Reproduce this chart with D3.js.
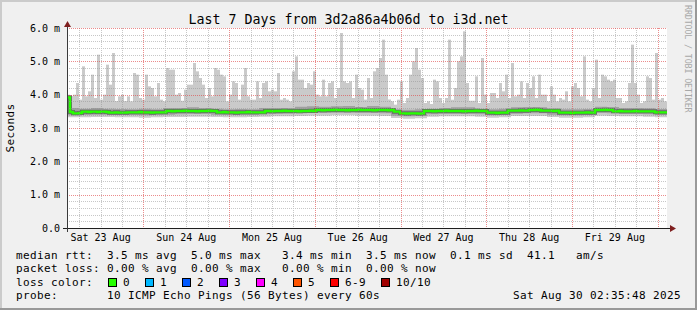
<!DOCTYPE html>
<html><head><meta charset="utf-8">
<script src="https://cdn.jsdelivr.net/npm/d3@7"></script>
<style>
html,body{margin:0;padding:0;background:#f0f0f0;}
svg{display:block;}
text{font-family:"DejaVu Sans Mono",monospace;white-space:pre;}
</style></head><body>
<svg id="c" width="697" height="310"></svg>
<script>
const titleText = "Last 7 Days from 3d2a86a4b06d to i3d.net";
const yAxisTitle = "Seconds";
const watermark = "RRDTOOL / TOBI OETIKER";
const yTicks = [0, 1, 2, 3, 4, 5, 6];
const yTickLabels = ["0.0", "1.0 m", "2.0 m", "3.0 m", "4.0 m", "5.0 m", "6.0 m"];
const dayLabels = ["Sat 23 Aug", "Sun 24 Aug", "Mon 25 Aug", "Tue 26 Aug", "Wed 27 Aug", "Thu 28 Aug", "Fri 29 Aug"];
const startTime = Date.UTC(2025, 7, 23, 2, 35, 48);
const endTime = Date.UTC(2025, 7, 30, 2, 35, 48);
const stepSec = 3024;      // one sample per bar
const smokeStepSec = 12096; // coarser smoke band samples

// top of smoke (slowest ping), ms
const maxVals = [
 4.0,3.95,4.0,4.35,3.85,4.85,3.95,4.1,4.6,3.9,
 5.2,3.85,4.0,4.9,4.3,5.25,3.8,3.95,4.0,3.8,
 3.95,3.8,4.65,4.6,3.9,3.85,4.6,4.25,4.2,3.95,
 4.35,3.85,3.75,4.8,4.75,4.75,4.0,4.05,3.8,4.15,
 4.3,4.3,4.95,4.7,4.5,4.3,3.9,4.2,3.95,4.8,
 4.75,4.6,4.55,3.8,4.0,4.4,4.35,3.85,4.3,4.8,
 3.95,3.85,3.85,4.4,3.9,4.35,4.4,4.1,4.15,4.1,
 4.65,3.85,3.9,3.85,3.8,4.7,5.15,4.45,4.45,4.2,
 4.35,4.3,4.7,4.0,3.95,4.45,3.95,4.35,4.4,3.9,
 4.2,5.85,4.4,4.35,4.4,3.9,4.6,4.2,4.15,3.85,
 4.5,3.9,4.7,4.8,5.1,5.65,4.6,3.85,3.8,3.7,
 3.85,4.4,3.75,3.9,4.6,5.0,5.4,4.75,4.5,3.75,
 3.8,3.7,4.45,4.4,3.9,3.75,3.9,5.65,3.8,4.2,
 5.0,5.15,5.9,4.35,3.8,3.8,4.55,3.75,5.1,4.0,
 3.75,4.05,4.05,3.9,4.35,4.1,4.6,3.9,4.95,3.95,
 4.0,4.4,3.9,4.35,4.2,4.55,3.9,4.6,4.0,4.0,
 3.8,4.25,4.0,3.8,3.9,3.85,4.1,3.8,4.25,4.35,
 4.2,3.95,5.15,3.85,3.8,4.2,5.05,3.9,4.6,4.55,
 4.45,4.4,4.45,3.9,3.9,3.75,3.8,4.35,5.5,4.35,
 4.0,3.75,3.8,4.55,4.5,3.85,5.25,3.85,3.9,3.8];

// median rtt, ms
const medianVals = [
 3.92,3.48,3.44,3.44,3.45,3.49,3.49,3.48,3.49,3.49,
 3.48,3.49,3.49,3.48,3.46,3.46,3.47,3.46,3.46,3.46,
 3.47,3.47,3.47,3.47,3.48,3.47,3.47,3.47,3.46,3.47,
 3.47,3.47,3.47,3.51,3.51,3.50,3.51,3.51,3.51,3.52,
 3.51,3.51,3.51,3.50,3.51,3.51,3.51,3.52,3.51,3.51,
 3.47,3.47,3.48,3.47,3.47,3.47,3.46,3.47,3.47,3.47,
 3.48,3.47,3.47,3.47,3.47,3.47,3.51,3.51,3.50,3.51,
 3.51,3.51,3.52,3.51,3.51,3.51,3.51,3.50,3.51,3.51,
 3.51,3.52,3.51,3.54,3.54,3.53,3.54,3.54,3.54,3.55,
 3.54,3.54,3.54,3.53,3.54,3.54,3.54,3.55,3.54,3.54,
 3.54,3.54,3.53,3.54,3.54,3.54,3.54,3.53,3.54,3.49,
 3.49,3.44,3.44,3.43,3.44,3.44,3.44,3.43,3.44,3.51,
 3.51,3.51,3.50,3.51,3.51,3.51,3.52,3.51,3.51,3.51,
 3.51,3.51,3.50,3.51,3.51,3.51,3.52,3.51,3.51,3.51,
 3.46,3.46,3.46,3.45,3.46,3.46,3.46,3.52,3.52,3.52,
 3.52,3.53,3.52,3.52,3.54,3.54,3.55,3.54,3.52,3.52,
 3.52,3.52,3.51,3.52,3.46,3.46,3.46,3.46,3.45,3.46,
 3.46,3.46,3.46,3.47,3.46,3.46,3.54,3.54,3.54,3.55,
 3.54,3.54,3.50,3.50,3.51,3.50,3.50,3.50,3.50,3.51,
 3.50,3.50,3.50,3.50,3.50,3.50,3.47,3.47,3.47,3.47];

// smoke bands (coarser), ms
const floorVals = [3.95,3.8,3.78,3.75,3.8,3.72,3.78,3.72,3.8,3.82,3.9,3.85,3.8,3.72,3.75,3.66,3.78,3.8,3.72,3.85,
 3.85,3.82,3.8,3.85,3.78,3.9,3.85,3.6,3.72,3.75,3.72,3.7,3.85,3.82,3.7,3.75,3.8,3.78,3.82,3.8,
 3.72,3.72,3.78,3.68,3.85,3.88,3.72,3.75,3.75,3.72];
const upperVals = [3.6,3.58,3.6,3.58,3.57,3.56,3.58,3.56,3.6,3.6,3.62,3.6,3.58,3.56,3.57,3.56,3.6,3.6,3.6,3.64,
 3.65,3.64,3.65,3.66,3.63,3.66,3.64,3.55,3.55,3.56,3.58,3.6,3.62,3.62,3.58,3.56,3.58,3.62,3.63,3.62,
 3.58,3.56,3.56,3.57,3.64,3.63,3.6,3.6,3.59,3.57];
const lowerVals = [3.38,3.39,3.4,3.4,3.39,3.39,3.38,3.39,3.4,3.41,3.42,3.42,3.4,3.39,3.39,3.39,3.41,3.42,3.43,3.44,
 3.45,3.45,3.46,3.46,3.45,3.45,3.44,3.37,3.35,3.36,3.41,3.42,3.42,3.42,3.41,3.38,3.39,3.43,3.44,3.44,
 3.4,3.38,3.38,3.39,3.45,3.44,3.42,3.42,3.41,3.39];
const minVals = [3.32,3.32,3.33,3.33,3.32,3.32,3.31,3.32,3.33,3.33,3.34,3.34,3.33,3.32,3.32,3.33,3.34,3.35,3.35,3.36,
 3.37,3.37,3.38,3.38,3.37,3.37,3.36,3.3,3.28,3.29,3.34,3.35,3.35,3.35,3.34,3.31,3.32,3.36,3.36,3.36,
 3.33,3.31,3.31,3.32,3.37,3.36,3.35,3.35,3.34,3.32];

const lossLabels = ["0", "1", "2", "3", "4", "5", "6-9", "10/10"];
const lossColors = ["#26ff00", "#00b8ff", "#0059ff", "#7e00ff", "#ff00ff", "#ff5500", "#ff0000", "#a10000"];
const legendRtt = "median rtt:  3.5 ms avg  5.0 ms max   3.4 ms min  3.5 ms now  0.1 ms sd  41.1   am/s";
const legendLoss = "packet loss: 0.00 % avg  0.00 % max   0.00 % min  0.00 % now";
const legendColorTitle = "loss color:";
const legendProbe = "probe:       10 ICMP Echo Pings (56 Bytes) every 60s";
const legendDate = "Sat Aug 30 02:35:48 2025";

const W = 697, H = 310;
const svg = d3.select("#c");
const x = d3.scaleUtc().domain([new Date(startTime), new Date(endTime)]).range([67, 667]);
const y = d3.scaleLinear().domain([0, 6]).range([228, 28]);

// background and frame
svg.append("rect").attr("width", W).attr("height", H).attr("fill", "#f0f0f0");
svg.append("path").attr("d", `M0,${H}V0H${W}`).attr("fill", "none").attr("stroke", "#cbcbcb").attr("stroke-width", 4);
svg.append("path").attr("d", `M0,${H}H${W}V0`).attr("fill", "none").attr("stroke", "#999999").attr("stroke-width", 4);
svg.append("rect").attr("x", 67).attr("y", 28).attr("width", 600).attr("height", 200).attr("fill", "#ffffff");

const tAt = (i, s) => new Date(startTime + i * s * 1000);
function stepSeries(arrs, s) {
  const n = arrs[0].length;
  const d = d3.range(n).map(i => ({t: tAt(i, s), v: arrs.map(a => a[i])}));
  d.push({t: new Date(endTime), v: arrs.map(a => a[n - 1])});
  return d;
}
const plot = svg.append("g");
const smoke = stepSeries([minVals, floorVals, lowerVals, upperVals], smokeStepSec);
plot.append("path").datum(smoke)
  .attr("d", d3.area().curve(d3.curveStepAfter).x(d => x(d.t)).y0(d => y(d.v[0])).y1(d => y(d.v[1])))
  .attr("fill", "#cbcbcb");
const barData = maxVals.map((v, i) => ({t: tAt(i, stepSec), max: v, med: medianVals[i]}));
plot.selectAll("rect.spk").data(barData).join("rect").attr("class", "spk")
  .attr("x", d => x(d.t)).attr("width", 3)
  .attr("y", d => y(d.max)).attr("height", d => Math.max(0, y(d.med) - y(d.max)))
  .attr("fill", "#cacaca");
plot.append("path").datum(smoke)
  .attr("d", d3.area().curve(d3.curveStepAfter).x(d => x(d.t)).y0(d => y(d.v[2])).y1(d => y(d.v[3])))
  .attr("fill", "#a0a0a0");
const med = stepSeries([medianVals], stepSec);
const medLine = d3.line().curve(d3.curveStepAfter).x(d => x(d.t)).y(d => y(d.v[0]));
plot.append("path").datum(med).attr("d", medLine).attr("fill", "none").attr("stroke", "#6a6a6a").attr("stroke-width", 4);
plot.append("path").datum(med).attr("d", medLine).attr("fill", "none").attr("stroke", "#26ff00").attr("stroke-width", 2.4);

// dotted grid built from single-pixel dots, drawn over data like rrdtool
const sD = new Date(startTime), eD = new Date(endTime);
let minorD = "", majorD = "";
function hDots(py) { let s = ""; for (let px = 67; px < 667; px += 2) s += `M${px},${py}h1v1h-1z`; return s; }
function vDots(px) { let s = ""; for (let py = 28; py < 228; py += 2) s += `M${px},${py}h1v1h-1z`; return s; }
d3.range(1, 31).filter(i => i % 5 !== 0).forEach(i => { minorD += hDots(Math.round(y(i / 5))); });
yTicks.filter(v => v > 0).forEach(v => { majorD += hDots(Math.round(y(v))); });
d3.utcHour.every(6).range(sD, eD).filter(d => d.getUTCHours() !== 0)
  .forEach(d => { minorD += vDots(Math.round(x(d))); });
d3.utcDay.range(sD, eD).forEach(d => { majorD += vDots(Math.round(x(d))); });
svg.append("path").attr("d", minorD).attr("fill", "rgba(143,143,143,0.5)").attr("shape-rendering", "crispEdges");
svg.append("path").attr("d", majorD).attr("fill", "rgba(222,70,70,0.62)").attr("shape-rendering", "crispEdges");

// axes
svg.append("line").attr("x1", 63).attr("x2", 670).attr("y1", 228.5).attr("y2", 228.5).attr("stroke", "#1f1f1f");
svg.append("line").attr("x1", 67.5).attr("x2", 67.5).attr("y1", 232).attr("y2", 25).attr("stroke", "#3a3a3a");
svg.append("path").attr("d", "M67.5,21L64,27L71,27Z").attr("fill", "#7f1f1f");
svg.append("path").attr("d", "M676,228.5L670,225L670,232Z").attr("fill", "#7f1f1f");

// axis labels
svg.selectAll("text.yl").data(yTicks).join("text").attr("class", "yl")
  .attr("x", 60).attr("y", v => y(v) + 3.5).attr("text-anchor", "end")
  .attr("font-size", "10px").attr("fill", "#000")
  .text((v, i) => yTickLabels[i]);
const noons = d3.utcDay.range(d3.utcDay.floor(sD), eD).map(d => new Date(+d + 12 * 3600e3)).filter(d => d > sD && d < eD);
svg.selectAll("text.xl").data(noons).join("text").attr("class", "xl")
  .attr("x", d => x(d)).attr("y", 241).attr("text-anchor", "middle")
  .attr("font-size", "10px").attr("fill", "#000")
  .text((d, i) => dayLabels[i]);

svg.append("text").attr("x", 348.5).attr("y", 24).attr("text-anchor", "middle")
  .attr("font-size", "13.3px").attr("fill", "#000").text(titleText);
svg.append("text").attr("transform", "translate(14,128) rotate(-90)").attr("text-anchor", "middle")
  .attr("font-size", "11px").attr("letter-spacing", "0.38px").attr("fill", "#000").text(yAxisTitle);
svg.append("text").attr("transform", "translate(685,5) rotate(90)")
  .attr("font-size", "8.4px").attr("letter-spacing", "-0.16px").attr("fill", "#a8a8a8").text(watermark);

// legend
const lg = svg.append("g").attr("font-size", "11px").attr("letter-spacing", "0.378px").attr("fill", "#000");
lg.append("text").attr("x", 16).attr("y", 258.5).text(legendRtt);
lg.append("text").attr("x", 16).attr("y", 272).text(legendLoss);
lg.append("text").attr("x", 16).attr("y", 285.7).text(legendColorTitle);
lg.append("text").attr("x", 16).attr("y", 299.4).text(legendProbe);
lg.append("text").attr("x", 513).attr("y", 299.4).text(legendDate);
let bx = 108;
lossLabels.forEach((lab, i) => {
  lg.append("rect").attr("x", bx + 0.5).attr("y", 278.5).attr("width", 8).attr("height", 8)
    .attr("fill", lossColors[i]).attr("stroke", "#000").attr("stroke-width", 1);
  lg.append("text").attr("x", bx + 15).attr("y", 285.7).text(lab);
  bx += 30 + 7 * lab.length;
});
</script>
</body></html>
